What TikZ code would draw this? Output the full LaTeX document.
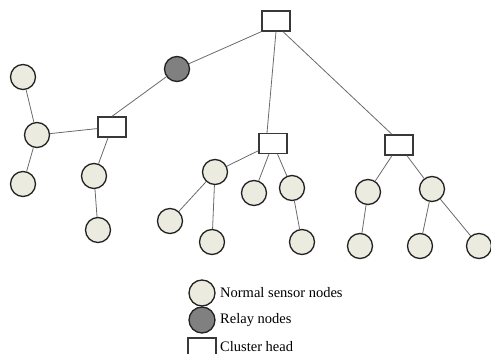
\documentclass[tikz,border=0pt]{standalone}
\usepackage{fontspec}
\setmainfont{Liberation Serif}
\definecolor{sensorfill}{HTML}{ECEBE0}
\definecolor{relayfill}{HTML}{808080}
\definecolor{edgecol}{HTML}{6A6A6A}
\definecolor{rimcol}{HTML}{222222}
\tikzset{
  sensor/.style={circle,draw=rimcol,line width=1.3pt,fill=sensorfill,minimum size=25pt,inner sep=0pt},
  relay/.style={circle,draw=rimcol,line width=1.3pt,fill=relayfill,minimum size=25pt,inner sep=0pt},
  chead/.style={rectangle,draw=rimcol!90,line width=1.3pt,fill=white,minimum width=28pt,minimum height=20pt,inner sep=0pt},
  link/.style={draw=edgecol,line width=0.8pt},
  legtext/.style={anchor=west,inner sep=0pt,font=\fontsize{14.5}{17}\selectfont}
}
\begin{document}
\begin{tikzpicture}[x=1pt,y=-1pt]
\useasboundingbox (0,0) rectangle (491,354);
% cluster heads
\node[chead] (tch) at (276,21) {};
\node[chead] (lch) at (112,127) {};
\node[chead] (mch) at (273,143.5) {};
\node[chead] (rch) at (399,145) {};
% relay
\node[relay] (rel) at (177,69) {};
% left cluster
\node[sensor] (l1) at (23,77) {};
\node[sensor] (l2) at (37,135) {};
\node[sensor] (l3) at (23,184) {};
\node[sensor] (l4) at (94,176) {};
\node[sensor] (l5) at (98,230) {};
% middle cluster
\node[sensor] (m1) at (215,172) {};
\node[sensor] (m2) at (170,221) {};
\node[sensor] (m3) at (212,242) {};
\node[sensor] (m4) at (254,193) {};
\node[sensor] (m5) at (292,188) {};
\node[sensor] (m6) at (302,242) {};
% right cluster
\node[sensor] (r1) at (368,192) {};
\node[sensor] (r2) at (432,189) {};
\node[sensor] (r3) at (360,246) {};
\node[sensor] (r4) at (420,246) {};
\node[sensor] (r5) at (479,246) {};
% links
\begin{scope}[on background layer/.try]
\end{scope}
\path[link] (tch.south west) -- (rel);
\path[link] (rel) -- (lch.north);
\path[link] (lch) -- (l2);
\path[link] (l2) -- (l1);
\path[link] (l2) -- (l3);
\path[link] (lch) -- (l4);
\path[link] (l4) -- (l5);
\path[link] (tch.south) -- ([xshift=-6pt]mch.north);
\path[link] ([xshift=7pt]tch.south) -- ([xshift=-7pt]rch.north);
\path[link] (mch) -- (m1);
\path[link] (m1) -- (m2);
\path[link] (m1) -- (m3);
\path[link] (mch) -- (m4);
\path[link] (mch) -- (m5);
\path[link] (m5) -- (m6);
\path[link] (rch) -- (r1);
\path[link] (rch) -- (r2);
\path[link] (r1) -- (r3);
\path[link] (r2) -- (r4);
\path[link] (r2) -- (r5);
% legend
\node[sensor,minimum size=26pt] (lgs) at (202,293) {};
\node[relay,minimum size=26pt] (lgr) at (202,320) {};
\node[chead] (lgc) at (202,348) {};
\node[legtext] (lgst) at (220,293) {Normal sensor nodes};
\node[legtext] (lgrt) at (220,320) {Relay nodes};
\node[legtext] (lgct) at (220,347) {Cluster head};
\end{tikzpicture}
\end{document}
